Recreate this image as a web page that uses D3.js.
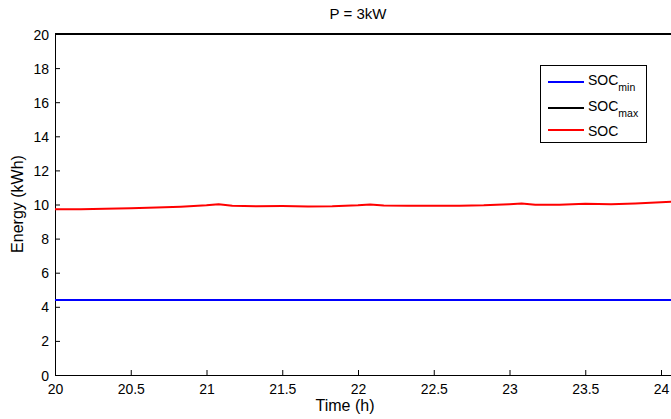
<!DOCTYPE html>
<html>
<head>
<meta charset="utf-8">
<script src="https://cdn.jsdelivr.net/npm/d3@7"></script>
<style>
  html, body { margin: 0; padding: 0; background: #fff; }
  svg { display: block; font-family: "Liberation Sans", Arial, sans-serif; }
</style>
</head>
<body>
<svg id="chart" width="671" height="419"></svg>
<script>
// ---- data ----
const title = "P = 3kW";
const xLabel = "Time (h)";
const yLabel = "Energy (kWh)";
const xTicks = [20, 20.5, 21, 21.5, 22, 22.5, 23, 23.5, 24];
const yTicks = [0, 2, 4, 6, 8, 10, 12, 14, 16, 18, 20];
const xDomain = [20, 24.066];
const yDomain = [0, 20];
const timeRange = [20, 24.083];
const socMin = 4.4;
const socMax = 20;
const socTime = [20.0, 20.17, 20.33, 20.5, 20.67, 20.83, 21.0, 21.08, 21.17, 21.33, 21.5, 21.67, 21.83, 22.0, 22.08, 22.17, 22.33, 22.5, 22.67, 22.83, 23.0, 23.08, 23.17, 23.33, 23.5, 23.67, 23.83, 24.0, 24.083];
const socValues = [9.72, 9.72, 9.75, 9.78, 9.82, 9.87, 9.95, 10.02, 9.92, 9.90, 9.91, 9.89, 9.90, 9.95, 10.0, 9.94, 9.92, 9.93, 9.92, 9.95, 10.02, 10.06, 9.98, 9.99, 10.04, 10.02, 10.06, 10.13, 10.17];
const legendItems = [
  { base: "SOC", sub: "min", color: "#0000ff" },
  { base: "SOC", sub: "max", color: "#000000" },
  { base: "SOC", sub: "", color: "#ff0000" }
];

// ---- layout ----
const svg = d3.select("#chart");
const mLeft = 55, mRight = 671, mTop = 34, mBottom = 375;

const x = d3.scaleLinear().domain(xDomain).range([mLeft, mRight]);
const y = d3.scaleLinear().domain(yDomain).range([mBottom, mTop]);

svg.append("defs").append("clipPath").attr("id", "clip")
  .append("rect").attr("x", mLeft).attr("y", mTop - 3).attr("width", mRight - mLeft).attr("height", mBottom - mTop + 6);

// axes (MATLAB style inward ticks)
const xAxis = d3.axisBottom(x).tickValues(xTicks).tickFormat(d3.format("")).tickSizeInner(-5).tickSizeOuter(0).tickPadding(0);
const gx = svg.append("g").attr("transform", `translate(0,${mBottom})`).call(xAxis);
const yAxis = d3.axisLeft(y).tickValues(yTicks).tickFormat(d3.format("")).tickSizeInner(-5).tickSizeOuter(0).tickPadding(6);
const gy = svg.append("g").attr("transform", `translate(${mLeft},0)`).call(yAxis);
[gx, gy].forEach(g => {
  g.selectAll("path.domain").attr("stroke", "#000").attr("stroke-width", 1);
  g.selectAll(".tick line").attr("stroke", "#000");
  g.selectAll(".tick text").attr("font-size", 14).attr("fill", "#000").attr("font-family", "Liberation Sans, Arial, sans-serif");
});
gx.selectAll(".tick text").attr("y", 19).attr("dy", null);
gy.selectAll(".tick text").attr("dy", "0.36em");
// top border
svg.append("line").attr("x1", mLeft).attr("x2", mRight).attr("y1", mTop).attr("y2", mTop).attr("stroke", "#000");

const plot = svg.append("g").attr("clip-path", "url(#clip)");
plot.append("line")
  .attr("x1", x(timeRange[0])).attr("x2", x(timeRange[1]))
  .attr("y1", y(socMin)).attr("y2", y(socMin))
  .attr("stroke", "#0000ff").attr("stroke-width", 2);
plot.append("line")
  .attr("x1", x(timeRange[0])).attr("x2", x(timeRange[1]))
  .attr("y1", y(socMax)).attr("y2", y(socMax))
  .attr("stroke", "#000").attr("stroke-width", 2);
const line = d3.line().x((d, i) => x(socTime[i])).y(d => y(d));
plot.append("path").datum(socValues)
  .attr("d", line).attr("fill", "none")
  .attr("stroke", "#ff0000").attr("stroke-width", 2).attr("stroke-linejoin", "round");

// title & labels
svg.append("text").attr("x", 358).attr("y", 19).attr("text-anchor", "middle")
  .attr("font-size", 15).text(title);
svg.append("text").attr("x", 345).attr("y", 411).attr("text-anchor", "middle")
  .attr("font-size", 16).text(xLabel);
svg.append("text").attr("transform", `translate(23,${204}) rotate(-90)`).attr("text-anchor", "middle")
  .attr("font-size", 16).text(yLabel);

// legend
const legendRowY = [82, 108, 130];
const lg = svg.append("g");
lg.append("rect").attr("x", 540.5).attr("y", 65.5).attr("width", 106).attr("height", 77)
  .attr("fill", "#fff").attr("stroke", "#000").attr("stroke-width", 1);
legendItems.forEach((d, i) => {
  const ly = legendRowY[i];
  lg.append("line").attr("x1", 548).attr("x2", 584).attr("y1", ly).attr("y2", ly)
    .attr("stroke", d.color).attr("stroke-width", 2);
  const t = lg.append("text").attr("x", 588).attr("y", d.sub ? ly + 3 : ly + 6).attr("font-size", 14);
  t.append("tspan").text(d.base);
  if (d.sub) t.append("tspan").attr("font-size", 10.5).attr("dy", 6).text(d.sub);
});
</script>
</body>
</html>
